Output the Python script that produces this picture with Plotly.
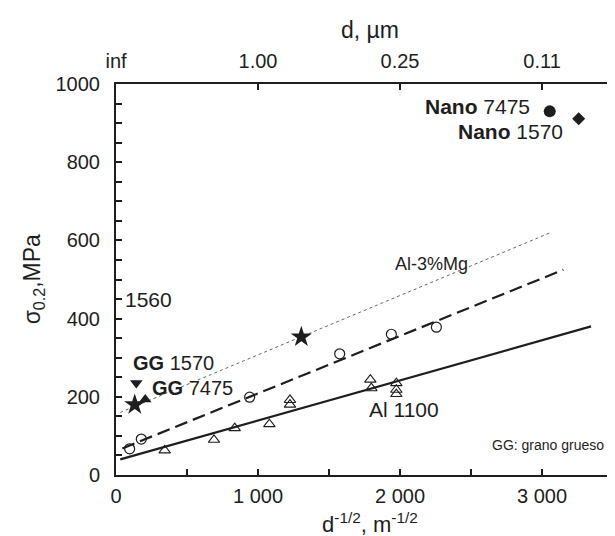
import plotly.graph_objects as go

# ---- data ----
circ_x = [96, 178, 941, 1575, 1939, 2256]
circ_y = [67, 92, 199, 310, 360, 378]

tri_x = [343, 690, 836, 1080, 1225, 1225, 1791, 1798, 1974, 1974, 1974]
tri_y = [63, 90, 120, 130, 192, 180, 244, 222, 235, 218, 207]

star_x = [132, 1305]
star_y = [180, 353]

gg1570_x = [143]
gg1570_y = [235]
gg7475_x = [206]
gg7475_y = [193]

nano7475_x = [3054]
nano7475_y = [930]
nano1570_x = [3258]
nano1570_y = [911]

solid_x = [30, 3345]
solid_y = [40, 380]
dashed_x = [45, 3150]
dashed_y = [68, 525]
dotted_x = [30, 3060]
dotted_y = [160, 620]

x_ticks = [0, 1000, 2000, 3000]
x_ticktext = ["0", "1 000", "2 000", "3 000"]
top_ticktext = ["inf", "1.00", "0.25", "0.11"]
y_ticks = [0, 200, 400, 600, 800, 1000]

ink = "#1e1e1e"
FONT = "Liberation Sans, Arial, sans-serif"

fig = go.Figure()

fig.add_trace(go.Scatter(x=dotted_x, y=dotted_y, mode="lines",
                         line=dict(color="#666", width=1, dash="dot"), showlegend=False))
fig.add_trace(go.Scatter(x=dashed_x, y=dashed_y, mode="lines",
                         line=dict(color=ink, width=2.2, dash="13px,6px"), showlegend=False))
fig.add_trace(go.Scatter(x=solid_x, y=solid_y, mode="lines",
                         line=dict(color=ink, width=2.2), showlegend=False))

fig.add_trace(go.Scatter(x=circ_x, y=circ_y, mode="markers",
                         marker=dict(symbol="circle-open", size=10, color=ink, line=dict(width=1.2)),
                         showlegend=False))
fig.add_trace(go.Scatter(x=tri_x, y=tri_y, mode="markers",
                         marker=dict(symbol="triangle-up-open", size=10, color=ink, line=dict(width=1.1)),
                         showlegend=False))
fig.add_trace(go.Scatter(x=star_x, y=star_y, mode="markers",
                         marker=dict(symbol="star", size=16, color=ink), showlegend=False))
fig.add_trace(go.Scatter(x=gg1570_x, y=gg1570_y, mode="markers",
                         marker=dict(symbol="triangle-down", size=11, color=ink), showlegend=False))
fig.add_trace(go.Scatter(x=gg7475_x, y=gg7475_y, mode="markers",
                         marker=dict(symbol="triangle-up", size=11, color=ink), showlegend=False))
fig.add_trace(go.Scatter(x=nano7475_x, y=nano7475_y, mode="markers",
                         marker=dict(symbol="circle", size=12, color=ink), showlegend=False))
fig.add_trace(go.Scatter(x=nano1570_x, y=nano1570_y, mode="markers",
                         marker=dict(symbol="diamond", size=10, color=ink), showlegend=False))

# invisible trace on the top axis so it renders
fig.add_trace(go.Scatter(x=[0], y=[0], xaxis="x2", mode="markers",
                         marker=dict(opacity=0), showlegend=False, hoverinfo="skip"))

XMAX = 3570

labels = [
    ("1560", 49, 450, 21, "left"),
    ("<b>GG</b> 1570", 106, 286, 20, "left"),
    ("<b>GG</b> 7475", 239, 222, 20, "left"),
    ("Al-3%Mg", 1951, 540, 18, "left"),
    ("Al 1100", 1770, 167, 21, "left"),
    ("<b>Nano</b> 7475", 2162, 943, 21, "left"),
    ("<b>Nano</b> 1570", 2394, 879, 21, "left"),
    ("GG: grano grueso", 3450, 77, 14, "right"),
]
for txt, x, y, s, anc in labels:
    fig.add_annotation(x=x, y=y, text=txt, showarrow=False, xanchor=anc, yanchor="middle",
                       font=dict(size=s, color=ink, family=FONT))

fig.add_annotation(xref="paper", yref="paper", x=0.5, y=-0.122, text="d<sup>-1/2</sup>, m<sup>-1/2</sup>",
                   showarrow=False, xanchor="center", yanchor="middle",
                   font=dict(size=22, color=ink, family=FONT))
fig.add_annotation(xref="paper", yref="paper", x=0.5, y=1.138, text="d, µm",
                   showarrow=False, xanchor="center", yanchor="middle",
                   font=dict(size=23, color=ink, family=FONT))
fig.add_annotation(xref="paper", yref="paper", x=-0.162, y=0.5, text="σ<sub>0.2</sub>,MPa",
                   showarrow=False, xanchor="center", yanchor="middle", textangle=-90,
                   font=dict(size=23, color=ink, family=FONT))

axis_common = dict(showgrid=False, zeroline=False, showline=True, linecolor=ink, linewidth=2,
                   ticks="inside", ticklen=6, tickwidth=1.5, tickcolor=ink,
                   tickfont=dict(size=20, color=ink, family=FONT))

fig.update_layout(
    width=615, height=536,
    margin=dict(l=108, r=0, t=76, b=69),
    paper_bgcolor="white", plot_bgcolor="white",
    xaxis=dict(range=[0, XMAX], tickvals=x_ticks, ticktext=x_ticktext, ticklabelstandoff=2,
               minor=dict(dtick=500, tick0=0, ticks="inside", ticklen=6, tickcolor=ink, tickwidth=1.5),
               **axis_common),
    xaxis2=dict(range=[0, XMAX], overlaying="x", side="top", tickvals=x_ticks, ticktext=top_ticktext,
                ticklabelstandoff=6, **axis_common),
    yaxis=dict(range=[0, 1000], tickvals=y_ticks, ticklabelstandoff=10,
               minor=dict(dtick=50, tick0=0, ticks="inside", ticklen=6, tickcolor=ink, tickwidth=1.5),
               **axis_common),
)

fig.write_html("out.html")
